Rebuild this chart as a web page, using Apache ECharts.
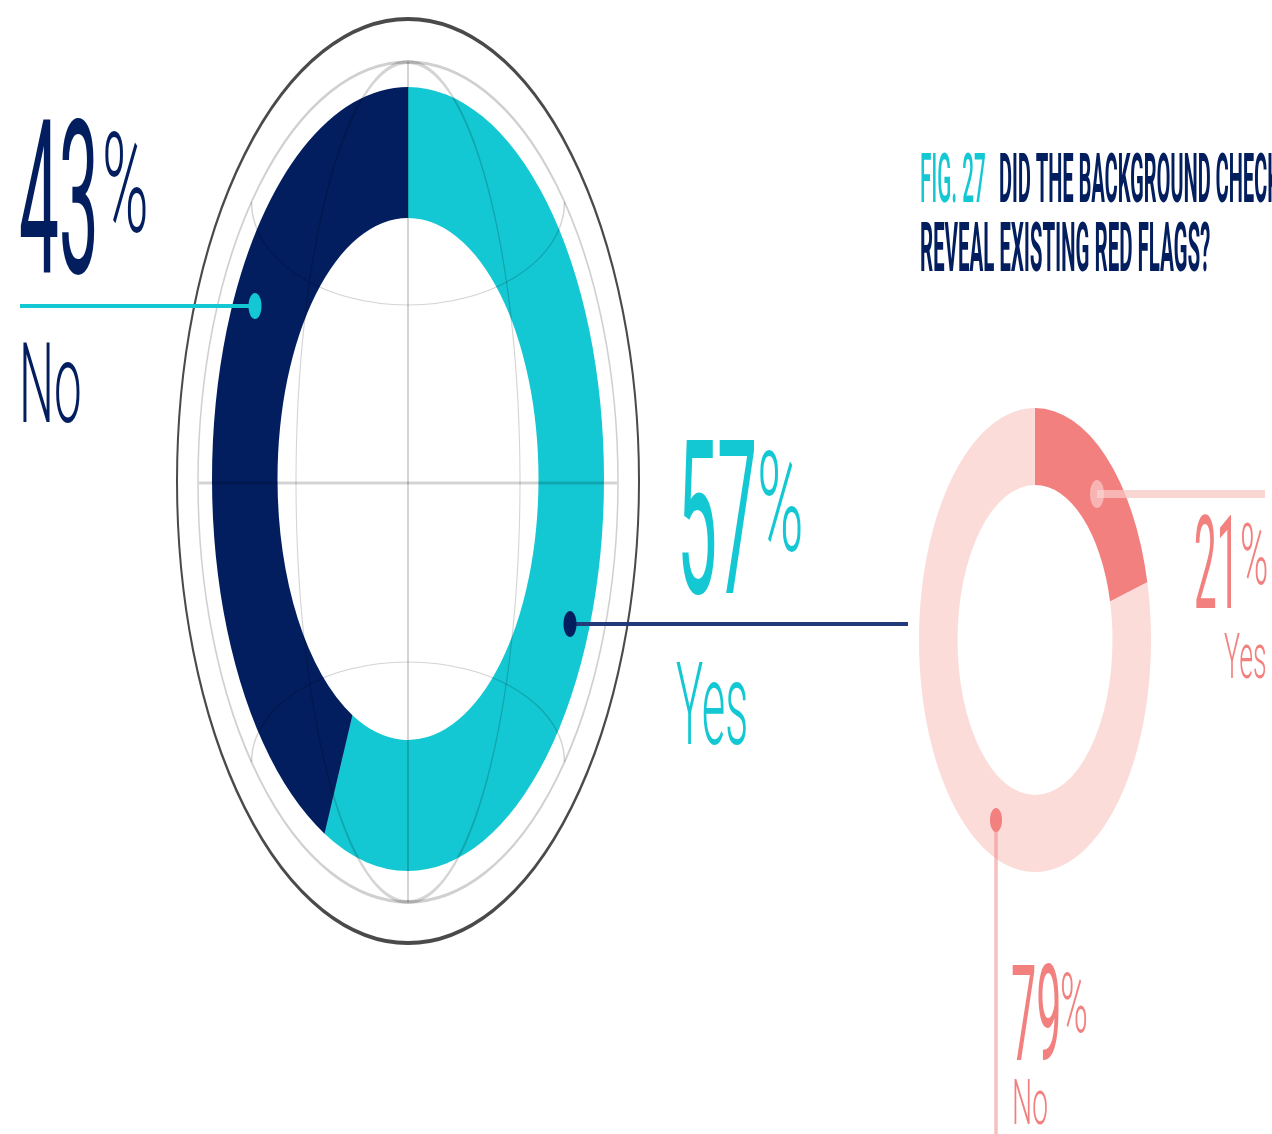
<!DOCTYPE html>
<html>
<head>
<meta charset="utf-8">
<script src="https://cdn.jsdelivr.net/npm/echarts@6/dist/echarts.min.js"></script>
<style>
html,body{margin:0;padding:0;background:#fff;overflow:hidden;width:1272px;height:1134px;}
#c{width:2544px;height:1134px;transform:scaleX(0.5);transform-origin:0 0;}
</style>
</head>
<body>
<div id="c"></div>
<script>
// ---- data ----
const bigCategories = ['Yes', 'No'];
const bigValues = [57, 43];
const smallCategories = ['Yes', 'No'];
const smallValues = [21, 79];
const titleFig = 'FIG. 27';
const titleLines = ['DID THE BACKGROUND CHECK', 'REVEAL EXISTING RED FLAGS?'];

// ---- styles ----
const NAVY = '#021e5e';
const CYAN = '#13c8d3';
const SALMON = '#f2807f';
const PINK = '#fbdcd8';
const bigColors = [CYAN, NAVY];
const smallColors = [SALMON, PINK];
const GL = 'rgba(0,0,0,0.17)';

const chart = echarts.init(document.getElementById('c'), null, {renderer: 'canvas'});

function txt(text, x, y, size, weight, color, sx) {
  return {
    type: 'text', x: x, y: y, scaleX: sx, z: 200, silent: true,
    style: {text: text, fontSize: size, fontWeight: weight, fontFamily: 'Roboto',
            fill: color, align: 'left', verticalAlign: 'middle'}
  };
}

const graphics = [
  // globe rings
  {type: 'circle', z: 1, silent: true, shape: {cx: 816, cy: 481, r: 462}, style: {fill: 'none', stroke: '#4a4a4a', lineWidth: 4}},
  {type: 'circle', z: 1, silent: true, shape: {cx: 816, cy: 482, r: 420}, style: {fill: 'none', stroke: '#d0d0d0', lineWidth: 3}},
  // globe grid on top
  {type: 'line', z: 100, silent: true, shape: {x1: 816, y1: 62, x2: 816, y2: 902}, style: {stroke: GL, lineWidth: 4}},
  {type: 'line', z: 100, silent: true, shape: {x1: 398, y1: 483, x2: 1234, y2: 483}, style: {stroke: GL, lineWidth: 3}},
  {type: 'circle', z: 100, silent: true, x: 816, y: 482, scaleX: 224 / 420,
   shape: {cx: 0, cy: 0, r: 420}, style: {fill: 'none', stroke: GL, lineWidth: 4, strokeNoScale: true}},
  {type: 'arc', z: 100, silent: true, x: 816, y: 202, scaleY: 103 / 313,
   shape: {cx: 0, cy: 0, r: 313, startAngle: 0, endAngle: Math.PI, clockwise: true}, style: {fill: 'none', stroke: GL, lineWidth: 3, strokeNoScale: true}},
  {type: 'arc', z: 100, silent: true, x: 816, y: 762, scaleY: 100 / 313,
   shape: {cx: 0, cy: 0, r: 313, startAngle: Math.PI, endAngle: 2 * Math.PI, clockwise: true}, style: {fill: 'none', stroke: GL, lineWidth: 3, strokeNoScale: true}},
  // leader lines
  {type: 'line', z: 150, silent: true, shape: {x1: 40, y1: 306, x2: 510, y2: 306}, style: {stroke: CYAN, lineWidth: 4}},
  {type: 'circle', z: 151, silent: true, shape: {cx: 510, cy: 306, r: 13}, style: {fill: CYAN}},
  {type: 'line', z: 150, silent: true, shape: {x1: 1140, y1: 624, x2: 1816, y2: 624}, style: {stroke: '#233a7a', lineWidth: 4}},
  {type: 'circle', z: 151, silent: true, shape: {cx: 1140, cy: 624, r: 13}, style: {fill: NAVY}},
  {type: 'line', z: 150, silent: true, shape: {x1: 2194, y1: 494, x2: 2530, y2: 494}, style: {stroke: 'rgba(248,200,196,0.75)', lineWidth: 8}},
  {type: 'circle', z: 151, silent: true, shape: {cx: 2194, cy: 494, r: 14}, style: {fill: 'rgba(250,215,211,0.6)'}},
  {type: 'line', z: 150, silent: true, shape: {x1: 1992, y1: 820, x2: 1992, y2: 1134}, style: {stroke: 'rgba(242,128,128,0.5)', lineWidth: 7}},
  {type: 'circle', z: 151, silent: true, shape: {cx: 1992, cy: 820, r: 12}, style: {fill: SALMON}},
  // labels big donut
  txt(String(bigValues[1]), 38, 219, 215, 400, NAVY, 0.66),
  txt('%', 204, 197, 140, 300, NAVY, 0.9),
  txt(bigCategories[1], 38, 394, 112, 300, NAVY, 0.88),
  txt(String(bigValues[0]), 1354, 539, 216, 400, CYAN, 0.66),
  txt('%', 1514, 516, 140, 300, CYAN, 0.9),
  txt(bigCategories[0], 1352, 715, 115, 300, CYAN, 0.79),
  // labels small donut
  txt(String(smallValues[0]), 2388, 575, 130, 400, SALMON, 0.62),
  txt('%', 2480, 563, 85, 300, SALMON, 0.9),
  txt(smallCategories[0], 2448, 662, 63, 300, SALMON, 0.85),
  txt(String(smallValues[1]), 2022, 1026, 134, 400, SALMON, 0.67),
  txt('%', 2120, 1011, 84, 300, SALMON, 0.9),
  txt(smallCategories[1], 2024, 1108, 63, 300, SALMON, 0.9),
  // title
  txt(titleFig, 1840, 185, 69, 500, CYAN, 0.60),
  txt(titleLines[0], 1998, 185, 69, 'bold', NAVY, 0.58),
  txt(titleLines[1], 1840, 254, 69, 'bold', NAVY, 0.593)
];

const option = {
  animation: false,
  backgroundColor: '#ffffff',
  series: [
    {
      type: 'pie', silent: true, z: 2,
      center: [816, 479], radius: [261, 392], startAngle: 90, clockwise: true,
      label: {show: false}, labelLine: {show: false},
      itemStyle: {borderWidth: 0},
      data: bigCategories.map((c, i) => ({name: c, value: bigValues[i], itemStyle: {color: bigColors[i]}}))
    },
    {
      type: 'pie', silent: true, z: 2,
      center: [2070, 640], radius: [155, 232], startAngle: 90, clockwise: true,
      label: {show: false}, labelLine: {show: false},
      itemStyle: {borderWidth: 0},
      data: smallCategories.map((c, i) => ({name: c, value: smallValues[i], itemStyle: {color: smallColors[i]}}))
    }
  ],
  graphic: graphics
};
chart.setOption(option);
</script>
</body>
</html>
